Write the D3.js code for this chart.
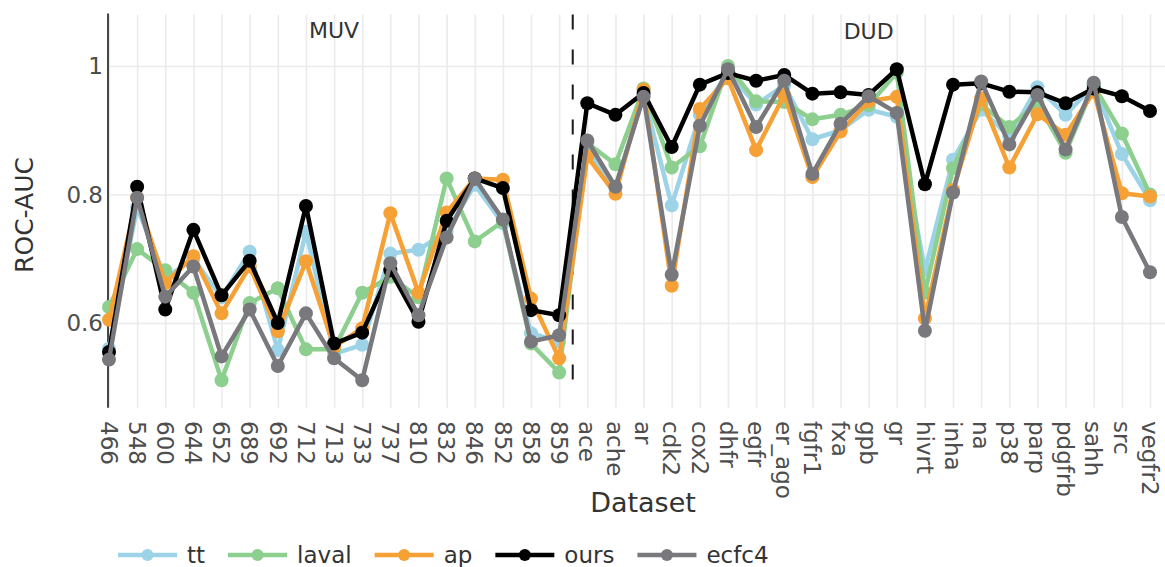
<!DOCTYPE html>
<html>
<head>
<meta charset="utf-8">
<script src="https://cdn.jsdelivr.net/npm/d3@7"></script>
<style>
  body { margin: 0; background: #fff; }
  svg { display: block; font-family: "DejaVu Sans", sans-serif; }
</style>
</head>
<body>
<div id="chart"></div>
<script>
// Datasets along the x axis (MUV targets, then DUD targets)
const muvSets = ["466", "548", "600", "644", "652", "689", "692", "712", "713", "733",
                 "737", "810", "832", "846", "852", "858", "859"];
const dudSets = ["ace", "ache", "ar", "cdk2", "cox2", "dhfr", "egfr", "er_ago", "fgfr1", "fxa",
                 "gpb", "gr", "hivrt", "inha", "na", "p38", "parp", "pdgfrb", "sahh", "src", "vegfr2"];
const datasets = muvSets.concat(dudSets);

// ROC-AUC per method
const tt = [0.56, 0.78, 0.67, 0.70, 0.64, 0.711, 0.558, 0.742, 0.552, 0.566,
            0.708, 0.714, 0.742, 0.815, 0.755, 0.584, 0.571,
            0.869, 0.81, 0.955, 0.783, 0.924, 0.99, 0.94, 0.97, 0.886, 0.90,
            0.932, 0.921, 0.682, 0.854, 0.932, 0.89, 0.967, 0.924, 0.97, 0.863, 0.791];
const laval = [0.625, 0.715, 0.682, 0.647, 0.511, 0.631, 0.654, 0.559, 0.559, 0.647,
               0.672, 0.64, 0.825, 0.727, 0.758, 0.568, 0.523,
               0.88, 0.847, 0.965, 0.842, 0.875, 1.0, 0.945, 0.944, 0.917, 0.924,
               0.939, 0.99, 0.647, 0.841, 0.94, 0.905, 0.942, 0.865, 0.97, 0.895, 0.80];
const ap = [0.605, 0.795, 0.662, 0.704, 0.615, 0.688, 0.587, 0.696, 0.563, 0.592,
            0.771, 0.647, 0.772, 0.825, 0.823, 0.638, 0.545,
            0.859, 0.801, 0.963, 0.658, 0.933, 0.981, 0.869, 0.955, 0.827, 0.898,
            0.945, 0.952, 0.607, 0.807, 0.95, 0.842, 0.925, 0.893, 0.96, 0.802, 0.797];
const ours = [0.555, 0.812, 0.621, 0.745, 0.643, 0.697, 0.600, 0.782, 0.568, 0.585,
              0.682, 0.602, 0.759, 0.825, 0.810, 0.620, 0.612,
              0.942, 0.924, 0.958, 0.874, 0.971, 0.989, 0.977, 0.986, 0.957, 0.959,
              0.955, 0.995, 0.816, 0.971, 0.973, 0.96, 0.959, 0.942, 0.965, 0.953, 0.930];
const ecfc4 = [0.543, 0.795, 0.641, 0.688, 0.548, 0.621, 0.533, 0.615, 0.545, 0.511,
               0.693, 0.612, 0.733, 0.825, 0.761, 0.571, 0.581,
               0.884, 0.812, 0.952, 0.675, 0.907, 0.995, 0.905, 0.977, 0.832, 0.910,
               0.953, 0.927, 0.588, 0.803, 0.976, 0.878, 0.955, 0.870, 0.974, 0.765, 0.679];

const methods = ["tt", "laval", "ap", "ours", "ecfc4"];
const methodValues = [tt, laval, ap, ours, ecfc4];
const methodColors = ["#9dd3e7", "#8ccf8f", "#f6a136", "#000000", "#78787d"];
const yTicks = [0.6, 0.8, 1.0];

const W = 1165, H = 567;
const svg = d3.select("#chart").append("svg")
    .attr("width", W)
    .attr("height", H);

// scales
const x = d3.scalePoint().domain(datasets).range([109, 1150]);
const y = d3.scaleLinear().domain([0.6, 1.0]).range([323, 66]);
const yTop = 1.08, yBottom = 0.468;

// gridlines
svg.append("g")
    .attr("transform", "translate(0," + y(yBottom) + ")")
    .call(d3.axisBottom(x).tickSize(-(y(yBottom) - y(yTop))).tickFormat(""))
    .call(g => g.select(".domain").remove())
    .call(g => g.selectAll("line").attr("stroke", "#ebebeb").attr("stroke-width", 1.6));

svg.append("g")
    .attr("transform", "translate(108,0)")
    .call(d3.axisLeft(y).tickValues(yTicks).tickSize(-(W - 108)).tickFormat(""))
    .call(g => g.select(".domain").remove())
    .call(g => g.selectAll("line").attr("stroke", "#ebebeb").attr("stroke-width", 1.6));

// y tick labels
svg.append("g").selectAll("text")
    .data(yTicks)
    .join("text")
    .attr("x", 103)
    .attr("y", d => y(d))
    .attr("dy", "0.36em")
    .attr("text-anchor", "end")
    .attr("font-size", 23)
    .attr("fill", "#4d4d4d")
    .text(d => d3.format("~g")(d));

// x tick labels (rotated)
svg.append("g").selectAll("text")
    .data(datasets)
    .join("text")
    .attr("transform", d => "translate(" + x(d) + ",421) rotate(90)")
    .attr("dy", "0.36em")
    .attr("text-anchor", "start")
    .attr("font-size", 23)
    .attr("fill", "#4d4d4d")
    .text(d => d);

// left axis line
svg.append("line")
    .attr("x1", 108).attr("x2", 108)
    .attr("y1", y(yTop) - 1).attr("y2", y(yBottom))
    .attr("stroke", "#333")
    .attr("stroke-width", 1.8);

// MUV / DUD separator
const sepX = (x(muvSets[muvSets.length - 1]) + x(dudSets[0])) / 2 - 0.5;
svg.append("line")
    .attr("x1", sepX).attr("x2", sepX)
    .attr("y1", y(yTop)).attr("y2", y(0.5))
    .attr("stroke", "#1a1a1a")
    .attr("stroke-width", 2)
    .attr("stroke-dasharray", "15,20");

svg.append("text")
    .attr("x", x("713")).attr("y", 38)
    .attr("text-anchor", "middle")
    .attr("font-size", 22)
    .attr("fill", "#333")
    .text("MUV");
svg.append("text")
    .attr("x", x("gpb")).attr("y", 39)
    .attr("text-anchor", "middle")
    .attr("font-size", 22)
    .attr("fill", "#333")
    .text("DUD");

// axis titles
svg.append("text")
    .attr("transform", "translate(33," + 215 + ") rotate(-90)")
    .attr("text-anchor", "middle")
    .attr("font-size", 25)
    .attr("fill", "#333")
    .text("ROC-AUC");
svg.append("text")
    .attr("x", 643).attr("y", 512)
    .attr("text-anchor", "middle")
    .attr("font-size", 27)
    .attr("fill", "#333")
    .text("Dataset");

// series
const line = d3.line()
    .x((d, i) => x(datasets[i]))
    .y(d => y(d));

methods.forEach((m, k) => {
    const g = svg.append("g").attr("class", "series-" + m);
    g.append("path")
        .datum(methodValues[k])
        .attr("d", line)
        .attr("fill", "none")
        .attr("stroke", methodColors[k])
        .attr("stroke-width", 4.5)
        .attr("stroke-linejoin", "round");
    g.selectAll("circle")
        .data(methodValues[k])
        .join("circle")
        .attr("cx", (d, i) => x(datasets[i]))
        .attr("cy", d => y(d))
        .attr("r", 7)
        .attr("fill", methodColors[k]);
});

// legend
const legend = svg.append("g").attr("transform", "translate(118,555)");
let lx = 0;
methods.forEach((m, k) => {
    const item = legend.append("g").attr("transform", "translate(" + lx + ",0)");
    item.append("line")
        .attr("x1", 0).attr("x2", 59)
        .attr("stroke", methodColors[k])
        .attr("stroke-width", 4.5);
    item.append("circle")
        .attr("cx", 29.5).attr("r", 6)
        .attr("fill", methodColors[k]);
    const t = item.append("text")
        .attr("x", 69)
        .attr("dy", "0.36em")
        .attr("font-size", 23)
        .attr("fill", "#333")
        .text(m);
    lx += 69 + t.node().getComputedTextLength() + 23;
});
</script>
</body>
</html>
